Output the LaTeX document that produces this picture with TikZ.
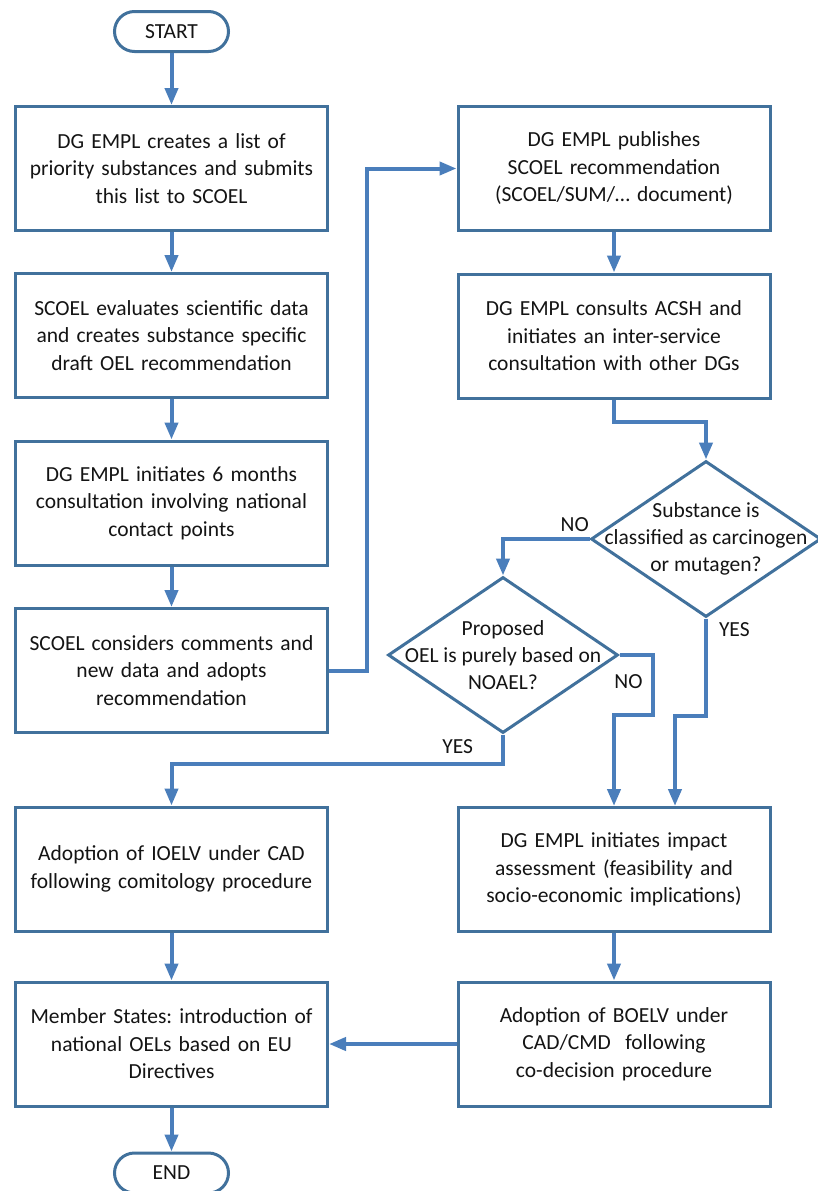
\documentclass[tikz,border=0pt]{standalone}
\usepackage{fontspec}
\setmainfont{Carlito}
\usepackage{xcolor}
\usepackage{tikz}
\usetikzlibrary{arrows.meta,positioning,calc,shapes.geometric}
\definecolor{boxblue}{RGB}{65,113,156}
\definecolor{flowblue}{RGB}{74,126,187}
\definecolor{textdark}{RGB}{20,20,20}
\frenchspacing
\tikzset{
  procbox/.style={draw=boxblue,line width=3pt,fill=white,align=center,inner sep=3pt,
    minimum width=312pt,minimum height=124pt,text width=306pt,text=textdark,
    font=\fontsize{21.5}{27.5}\selectfont},
  termbox/.style={draw=boxblue,line width=3pt,fill=white,rounded corners=20pt,
    minimum width=114pt,minimum height=40pt,text=textdark,font=\fontsize{21.5}{24}\selectfont},
  decisionbox/.style={draw=boxblue,line width=3pt,diamond,inner sep=0pt,
    minimum width=230pt,minimum height=156pt},
  decisiontext/.style={align=center,text=textdark,font=\fontsize{21.5}{27}\selectfont},
  flowarrow/.style={-{Triangle[length=17pt,width=13pt]},draw=flowblue,line width=4pt},
  flowlabel/.style={text=textdark,font=\fontsize{21.5}{24}\selectfont,inner sep=2pt}
}

\begin{document}
\begin{tikzpicture}[x=1pt,y=-1pt]
  \useasboundingbox (0,0) rectangle (818,1191);

  % left column: from the priority list to the adopted recommendation
  \node[termbox] (start) at (171.5,31.5) {START};
  \node[procbox] (prioritylist) at (171.5,168.5)
    {DG EMPL creates a list of\\priority substances and submits\\this list to SCOEL};
  \node[procbox] (evaluate) at (171.5,335.5)
    {SCOEL evaluates scientific data\\and creates substance specific\\draft OEL recommendation};
  \node[procbox] (nationalcons) at (171.5,503)
    {DG EMPL initiates 6 months\\consultation involving national\\contact points};
  \node[procbox] (adoptrec) at (171.5,670.5)
    {SCOEL considers comments and\\new data and adopts\\recommendation};

  % right column: publication and consultation
  \node[procbox] (publish) at (614,168.5)
    {DG EMPL publishes\\SCOEL recommendation\\(SCOEL/SUM/… document)};
  \node[procbox] (acsh) at (614,336)
    {DG EMPL consults ACSH and\\initiates an inter-service\\consultation with other DGs};

  % the two decisions
  \node[decisionbox] (carcinogen) at (706,539) {};
  \node[decisiontext] at (carcinogen.center)
    {Substance is\\classified as carcinogen\\or mutagen?};
  \node[decisionbox] (noael) at (503,655) {};
  \node[decisiontext] at (noael.center)
    {Proposed\\OEL is purely based on\\NOAEL?};

  % lower part: the two adoption routes
  \node[procbox] (ioelv) at (171.5,869)
    {Adoption of IOELV under CAD\\following comitology procedure};
  \node[procbox] (impact) at (614,869.5)
    {DG EMPL initiates impact\\assessment (feasibility and\\socio-economic implications)};
  \node[procbox] (memberstates) at (171.5,1044)
    {Member States: introduction of\\national OELs based on EU\\Directives};
  \node[procbox] (boelv) at (614,1044)
    {Adoption of BOELV under\\CAD/CMD~ following\\co-decision procedure};
  \node[termbox] (finish) at (171.5,1173) {END};

  % connectors
  \draw[flowarrow] (start) -- (prioritylist);
  \draw[flowarrow] (prioritylist) -- (evaluate);
  \draw[flowarrow] (evaluate) -- (nationalcons);
  \draw[flowarrow] (nationalcons) -- (adoptrec);
  \draw[flowarrow] (adoptrec.east) -- ++(38,0) |- (publish.west);
  \draw[flowarrow] (publish) -- (acsh);
  \draw[flowarrow] (acsh.south) -- ++(0,22) -| (carcinogen.north);
  \draw[flowarrow] (carcinogen.west) -- (carcinogen.west -| noael.north)
    node[flowlabel,pos=0.17,above=3pt] {NO} -- (noael.north);
  \draw[flowarrow] (noael.east) -- ++(33,0) -- ++(0,60)
    node[flowlabel,pos=0.45,left=6pt] {NO} -| (impact.north);
  \draw[flowarrow] (carcinogen.south) -- ++(0,97)
    node[flowlabel,pos=0.11,right=9pt] {YES} -| ([xshift=61pt]impact.north);
  \draw[flowarrow] (noael.south) -- ++(0,29)
    node[flowlabel,pos=0.4,left=26pt] {YES} -| (ioelv.north);
  \draw[flowarrow] (ioelv) -- (memberstates);
  \draw[flowarrow] (impact) -- (boelv);
  \draw[flowarrow] (boelv) -- (memberstates);
  \draw[flowarrow] (memberstates) -- (finish);
\end{tikzpicture}
\end{document}
